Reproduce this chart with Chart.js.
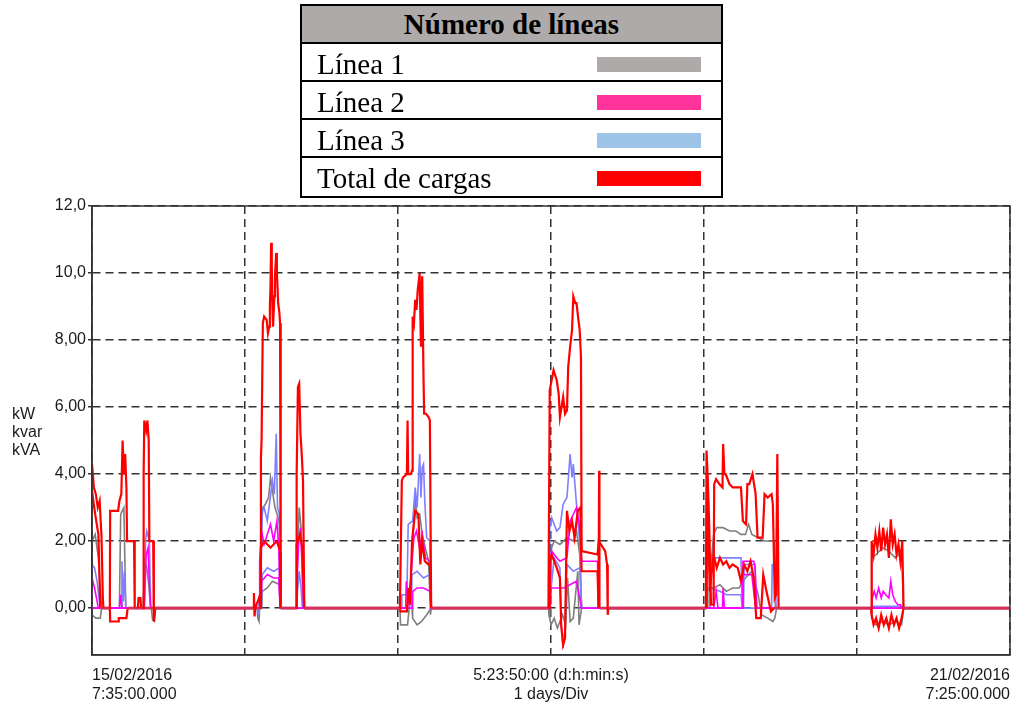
<!DOCTYPE html>
<html>
<head>
<meta charset="utf-8">
<script src="https://cdn.jsdelivr.net/npm/chart.js@4.4.1/dist/chart.umd.min.js"></script>
<style>
  html,body{margin:0;padding:0;background:#fff;width:1016px;height:706px;overflow:hidden;}
  #wrap{position:relative;width:1016px;height:706px;}
  #c{position:absolute;left:0;top:0;}
  #legend{position:absolute;left:300px;top:4px;width:423px;height:194px;border:2px solid #000;box-sizing:border-box;
    font-family:"Liberation Serif","Times New Roman",serif;color:#000;}
  .row{position:relative;height:38px;box-sizing:border-box;border-bottom:2px solid #000;font-size:29px;line-height:36px;}
  .row:last-child{border-bottom:none;height:38px;}
  .hdr{background:#AEAAAA;font-weight:bold;text-align:center;}
  .lbl{position:absolute;left:15px;top:2px;white-space:nowrap;}
  .sw{position:absolute;left:295px;top:13px;width:104px;height:15px;}
</style>
</head>
<body>
<div id="wrap">
  <canvas id="c" width="1016" height="706"></canvas>
  <div id="legend">
    <div class="row hdr">Número de líneas</div>
    <div class="row"><span class="lbl">Línea 1</span><span class="sw" style="background:#AEAAAA"></span></div>
    <div class="row"><span class="lbl">Línea 2</span><span class="sw" style="background:#FF3399"></span></div>
    <div class="row"><span class="lbl">Línea 3</span><span class="sw" style="background:#9DC3E6"></span></div>
    <div class="row"><span class="lbl">Total de cargas</span><span class="sw" style="background:#FF0000"></span></div>
  </div>
</div>
<script>
// x values are hours since 15/02/2016 7:35
const xTicks = [0, 24, 48, 72, 96, 120, 144];
const xTickLabels = [["15/02/2016","7:35:00.000"], "", "", ["5:23:50:00 (d:h:min:s)","1 days/Div"], "", "", ["21/02/2016","7:25:00.000"]];
const yTicks = [0, 2, 4, 6, 8, 10, 12];
const yTickLabels = ["0,00","2,00","4,00","6,00","8,00","10,0","12,0"];
const yUnits = ["kW","kvar","kVA"];

const line1A = [[0,2.0],[0.5,2.2],[1.0,1.5],[1.5,0],[4.3,0],[4.5,2.8],[5.0,3.0],[5.3,0],[8.0,0],[8.3,1.4],[8.6,1.2],[8.9,0.7],[9.2,0],
[25.9,0],[26.0,-0.3],[26.2,-0.4],[26.4,0.5],[26.6,2.5],[26.8,3.0],[27.2,3.1],[27.7,3.3],[28.0,3.9],[28.3,3.5],[28.7,3.0],[29.2,2.7],[29.4,2.5],[29.5,0],[32.1,0],[32.2,1.5],[32.5,3.0],[32.8,2.4],[33.1,0],
[48.3,0],[48.4,-0.5],[49.5,-0.5],[49.9,0.3],[50.3,2.0],[50.7,3.3],[51.0,2.7],[51.4,2.8],[51.8,2.2],[52.4,1.7],[52.8,1.4],[53.1,-0.2],[53.2,0],
[71.6,0],[71.8,-0.3],[72.1,1.8],[72.5,2.0],[73.4,1.9],[74.5,2.1],[75.5,2.0],[76.0,2.3],[76.5,1.6],[76.8,0],
[96.4,0],[96.5,2.0],[97.0,1.0],[97.5,2.2],[98.0,2.4],[99,2.4],[100,2.3],[101,2.3],[101.8,2.2],[102.5,2.2],[103.0,2.5],[103.5,2.2],[104.5,2.1],[105.5,2.0],[107.0,2.0],[107.2,0],
[122.2,0],[122.3,1.5],[123,1.6],[124,1.8],[125,1.7],[126,1.5],[127,1.7],[127.3,0],[144,0]];

const line1B = [[0,-0.2],[0.6,-0.3],[1.3,-0.3],[1.5,0],[9.3,0],[9.5,-0.35],[9.8,-0.4],[10.0,0],
[26.6,0],[26.7,0.5],[27.5,0.6],[28.3,0.8],[29.4,0.7],[29.5,0],
[50.2,0],[50.3,-0.3],[51.0,-0.5],[51.7,-0.4],[52.5,-0.2],[53.2,0],
[71.6,0],[71.7,-0.2],[72.0,-0.5],[72.5,-0.3],[73.0,-0.6],[73.8,-0.2],[74.3,-0.5],[74.6,0.9],[75.0,-0.4],[75.5,-0.3],[76.2,1.1],[76.4,-0.5],[76.8,0],
[96.5,0],[96.6,0.6],[97.5,0.6],[98.5,0.7],[99.5,0.5],[100.5,0.6],[101.5,0.6],[102.5,0.9],[103.5,1.1],[104.5,0.4],[105,-0.2],[106,-0.3],[106.8,-0.4],[107.1,-0.3],[107.4,0],
[122.2,0],[122.3,-0.3],[123,-0.5],[124,-0.4],[125,-0.5],[126,-0.4],[127,-0.5],[127.3,0],[144,0]];

const line2A = [[0,0.9],[0.4,0.6],[0.8,0.2],[1.0,0],[4.3,0],[4.5,0.4],[4.7,0],[8.2,0],[8.5,1.6],[8.8,1.8],[9.0,0.7],[9.2,0],
[26.2,0],[26.3,1.4],[26.6,2.3],[27,1.9],[27.5,2.2],[28,2.5],[28.5,2.0],[29,2.6],[29.3,1.8],[29.5,0],[32.0,0],[32.1,0.5],[32.4,1.9],[32.7,2.4],[33.0,1.1],[33.2,0],
[49.2,0],[49.3,0.8],[49.6,0.2],[50.0,0.9],[50.5,2.1],[50.9,2.3],[51.4,1.8],[51.8,2.2],[52.3,1.5],[53.0,1.4],[53.2,0],
[71.7,0],[71.8,1.2],[72.1,1.7],[72.9,1.5],[73.4,1.4],[74.5,1.5],[75.0,2.6],[75.5,2.8],[76.0,3.0],[76.5,2.4],[76.8,1.4],[79.3,1.4],[79.4,0],
[97.5,0],[97.6,0.1],[97.9,0.5],[98.2,0],[98.9,0],[99.0,0.6],[99.2,0],[102.0,0],[102.1,1.4],[103.8,1.4],[104.0,1.2],[104.3,0],
[122.3,0],[122.4,0.3],[122.7,0.5],[123.0,0.3],[123.4,0.6],[123.8,0.3],[124.1,0.5],[124.5,0.4],[125.0,0.3],[125.3,0.8],[125.6,0.4],[126.0,0.2],[126.4,0.1],[126.8,0.1],[127.0,0],[144,0]];

const line2B = [[0,0],[26.5,0],[26.6,0.8],[27.5,1.0],[28.5,0.9],[29.3,0.9],[29.5,0],
[50.2,0],[50.3,0.5],[51,0.6],[52,0.6],[53,0.5],[53.2,0],
[71.9,0],[72.0,0.6],[74,0.6],[76,0.8],[76.8,0],
[102.0,0],[102.1,1.0],[103.5,1.0],[104.1,0],[144,0]];

const line3A = [[0,1.3],[0.4,1.2],[0.8,0.8],[1.1,0.3],[1.3,0],[4.6,0],[4.7,1.4],[4.9,0.2],[5.1,1.1],[5.3,0],[8.2,0],[8.4,2.0],[8.6,2.3],[9.0,2.0],[9.2,0],
[26.0,0],[26.1,-0.2],[26.5,1.0],[26.7,2.9],[27.0,3.0],[27.5,2.6],[27.9,3.2],[28.3,3.8],[28.6,3.4],[28.9,5.2],[29.1,3.0],[29.4,2.8],[29.5,0],[32.1,0],[32.2,0.4],[32.5,1.1],[32.8,0.6],[33.0,0],
[48.5,0],[48.6,0.4],[49.4,0.4],[49.6,2.5],[50.3,2.6],[50.7,3.6],[51.0,3.0],[51.4,4.6],[51.6,3.3],[51.8,4.2],[52.0,4.3],[52.2,3.2],[52.5,2.1],[53.0,2.0],[53.2,0],
[71.7,0],[71.8,2.4],[72.1,2.7],[72.9,2.3],[73.4,2.4],[73.9,3.1],[74.5,3.3],[75.0,4.6],[75.3,3.9],[75.5,4.3],[76.0,3.1],[76.5,2.0],[76.8,0],
[96.9,0],[97.0,1.5],[101.8,1.5],[102.0,0],[102.2,0],[102.3,1.3],[104.0,1.3],[104.2,0],[106.6,0],[106.7,1.3],[107.2,1.3],[107.3,0],
[122.3,0],[122.4,0.05],[127.2,0.05],[127.3,0],[144,0]];

const line3B = [[0,0],[26.6,0],[26.7,1.0],[27.5,1.2],[28.5,1.1],[29.4,1.2],[29.5,0],
[50.1,0],[50.2,1.0],[51,1.1],[52,0.9],[53,1.0],[53.2,0],
[71.7,0],[71.8,0.2],[72.5,1.5],[73.4,1.2],[73.6,-0.5],[73.9,-1.2],[74.2,-0.6],[74.5,1.3],[75.5,1.1],[76.5,1.2],[76.8,0],
[96.9,0],[97.0,0.6],[98.5,0.5],[99.5,0.4],[101.8,0.4],[102.0,0],[144,0]];

const totalA = [[0,4.3],[0.3,3.6],[0.6,3.4],[0.9,3.0],[1.2,3.2],[1.5,2.1],[1.7,0.3],[1.8,0],[2.8,0],[2.85,2.9],[4.1,2.9],[4.3,3.2],[4.6,3.4],[4.8,5.0],[5.0,4.0],[5.2,4.6],[5.4,3.6],[5.5,2.0],[6.6,2.0],[6.7,0],[7.2,0],[7.3,0.3],[7.6,0.3],[7.7,0],[8.0,0],[8.1,4.0],[8.2,5.6],[8.5,5.3],[8.7,5.6],[8.9,5.0],[9.0,2.0],[9.6,2.0],[9.7,-0.4],[9.9,0],
[25.3,0],[25.4,0.45],[25.5,-0.25],[25.6,0],[26.2,0.3],[26.4,0.1],[26.5,4.5],[26.6,5.0],[26.8,8.5],[27.0,8.7],[27.4,8.6],[27.6,8.2],[27.8,8.4],[27.9,9.0],[28.0,9.6],[28.1,10.9],[28.2,10.2],[28.3,9.0],[28.4,8.4],[28.6,9.3],[28.7,9.9],[28.9,10.6],[29.0,10.0],[29.1,9.6],[29.2,9.1],[29.4,8.8],[29.5,8.5],[29.6,0],[32.0,0],[32.1,4.0],[32.3,6.6],[32.5,6.7],[32.7,5.2],[32.9,4.6],[33.1,3.8],[33.3,0],
[48.3,0],[48.6,3.8],[48.8,3.9],[49.4,4.0],[49.5,5.6],[49.6,4.0],[50.0,4.0],[50.2,4.1],[50.3,8.7],[50.5,8.5],[50.7,9.2],[50.9,8.9],[51.1,9.5],[51.4,10.0],[51.5,8.8],[51.6,7.8],[51.7,9.3],[51.8,9.9],[52.0,6.9],[52.1,5.8],[52.4,5.8],[52.8,5.7],[53.0,5.6],[53.2,0],
[71.6,0],[71.8,6.5],[72.1,6.8],[72.4,7.1],[72.9,6.8],[73.2,6.4],[73.4,5.7],[73.9,6.3],[74.2,5.8],[74.5,5.9],[74.7,7.2],[75.0,7.8],[75.3,8.3],[75.5,9.3],[75.8,9.1],[76.0,9.1],[76.3,8.6],[76.5,8.3],[76.7,7.5],[76.8,1.7],[79.3,1.6],[79.5,2.0],[80.5,1.7],[80.8,1.3],[80.9,-0.2],[81.0,0],
[96.3,0],[96.4,4.7],[96.6,3.8],[96.8,2.6],[97.1,0.1],[97.5,0.1],[97.6,3.7],[97.9,3.85],[98.4,3.7],[98.9,3.6],[99.0,4.9],[99.2,4.0],[99.4,4.0],[99.8,3.8],[100.0,3.7],[100.5,3.6],[101.3,3.6],[101.8,3.6],[102.1,2.6],[102.6,2.5],[102.8,3.7],[103.1,3.7],[103.6,4.0],[104.1,3.4],[104.4,2.1],[105.2,2.1],[105.5,3.4],[106.0,3.3],[106.6,3.4],[106.8,3.1],[107.1,0.3],[107.3,0.4],[107.5,4.6],[107.7,0],
[122.2,0],[122.3,2.0],[122.6,1.6],[122.9,2.2],[123.2,1.8],[123.5,2.3],[123.8,1.7],[124.1,2.4],[124.4,1.9],[124.7,2.2],[125.0,1.5],[125.3,2.65],[125.6,1.9],[125.9,2.2],[126.2,1.6],[126.5,1.9],[126.8,1.4],[127.1,2.0],[127.3,0],[144,0]];

const totalB = [[0,3.5],[0.5,2.8],[1.0,2.2],[1.3,0],[2.8,0],[2.85,-0.4],[4.1,-0.4],[4.2,-0.3],[5.4,-0.3],[5.6,0],
[26.4,0],[26.5,1.8],[27,2.0],[28,1.8],[29,2.0],[29.5,1.7],[29.6,0],[32.0,0],[32.1,1.9],[32.6,2.2],[33.0,1.8],[33.3,0],
[48.3,0],[48.4,-0.1],[49.4,-0.1],[49.6,0.6],[49.9,0.1],[50.2,2.0],[50.7,2.9],[51.2,2.8],[51.5,1.3],[51.8,2.0],[52.2,1.4],[52.8,1.3],[53.0,1.3],[53.2,0],
[71.7,0],[71.8,1.4],[72.1,1.6],[72.9,1.2],[73.4,0.9],[73.6,-0.5],[73.9,-1.1],[74.2,-0.9],[74.5,2.9],[74.9,2.3],[75.3,2.6],[75.7,2.1],[76.2,2.9],[76.6,3.0],[76.8,1.1],[79.3,1.1],[79.45,0],[79.55,4.1],[79.6,0],
[96.4,0],[96.5,4.0],[96.9,0.5],[97.5,1.6],[98.0,1.2],[98.5,1.5],[99.0,1.3],[99.5,1.4],[100,1.2],[100.5,1.3],[101.3,1.2],[101.8,0.8],[102.3,1.3],[102.8,1.1],[103.3,1.4],[103.8,0.9],[104.2,-0.3],[104.9,-0.3],[105.3,1.0],[105.8,0.5],[106.5,-0.1],[107.0,0.0],
[122.2,0],[122.3,-0.2],[122.6,-0.5],[123,-0.3],[123.4,-0.6],[123.8,-0.2],[124.2,-0.5],[124.6,-0.3],[125,-0.6],[125.4,-0.2],[125.8,-0.5],[126.2,-0.3],[126.6,-0.6],[127.0,-0.3],[127.3,0],[144,0]];

const toXY = arr => arr.map(p => ({x: p[0], y: p[1]}));
// segments lying on the zero level are drawn in the blended crimson seen in the reference
const zeroSeg = (c) => c.p0.parsed.y === 0 && c.p1.parsed.y === 0;
function ds(label, arr, color, width, order, baseColor) {
  const d = {label, data: toXY(arr), borderColor: color, backgroundColor: color, borderWidth: width,
    pointRadius: 0, tension: 0, fill: false, order};
  if (baseColor) {
    d.segment = {
      borderColor: c => zeroSeg(c) ? baseColor : undefined,
      borderWidth: c => zeroSeg(c) ? 2.6 : undefined
    };
  }
  return d;
}

const frame = {
  id: 'frame',
  afterDatasetsDraw(chart) {
    const {ctx, chartArea: a} = chart;
    ctx.save();
    ctx.strokeStyle = '#333';
    ctx.lineWidth = 1.5;
    ctx.strokeRect(a.left, a.top, a.right - a.left, a.bottom - a.top);
    ctx.fillStyle = '#1a1a1a';
    ctx.font = '16px "Liberation Sans", Arial, sans-serif';
    ctx.textAlign = 'left';
    ctx.textBaseline = 'alphabetic';
    const base = [419, 437, 455];
    yUnits.forEach((t, i) => ctx.fillText(t, 12, base[i]));
    ctx.restore();
  }
};

const fontSpec = {family: '"Liberation Sans", Arial, sans-serif', size: 16, lineHeight: 1.2};

new Chart(document.getElementById('c'), {
  type: 'line',
  data: {
    datasets: [
      ds('Total de cargas', totalA, '#ff0000', 2.2, 0, '#d62f5c'),
      ds('Total de cargas ', totalB, '#ff0000', 2.2, 1, '#d62f5c'),
      ds('Línea 2', line2A, '#ff00ff', 1.6, 2),
      ds('Línea 2 ', line2B, '#ff00ff', 1.6, 3),
      ds('Línea 3', line3A, '#7f7fff', 1.6, 4),
      ds('Línea 3 ', line3B, '#7f7fff', 1.6, 5),
      ds('Línea 1', line1A, '#7f7f7f', 1.6, 6),
      ds('Línea 1 ', line1B, '#7f7f7f', 1.6, 7)
    ]
  },
  options: {
    responsive: false,
    animation: false,
    events: [],
    layout: {padding: {top: 206, right: 6, left: 0, bottom: 0}},
    plugins: {legend: {display: false}, tooltip: {enabled: false}, title: {display: false}},
    scales: {
      x: {
        type: 'linear', min: 0, max: 144,
        afterBuildTicks: s => { s.ticks = xTicks.map(v => ({value: v})); },
        afterFit: s => { s.height = 51; s.paddingLeft = 0; s.paddingRight = 0; },
        ticks: {
          autoSkip: false, maxRotation: 0, align: 'inner', padding: 11,
          color: '#1a1a1a', font: fontSpec,
          callback: (v, i) => xTickLabels[i]
        },
        grid: {color: '#333', lineWidth: 1.5, drawTicks: false},
        border: {display: true, color: '#333', width: 1.5, dash: [8, 5]}
      },
      y: {
        type: 'linear', min: -1.4, max: 12,
        afterBuildTicks: s => { s.ticks = yTicks.map(v => ({value: v})); },
        afterFit: s => { s.width = 92; },
        ticks: {color: '#1a1a1a', font: fontSpec, padding: 2,
          callback: (v, i) => yTickLabels[i]},
        grid: {color: '#333', lineWidth: 1.5, drawTicks: true, tickLength: 4, tickBorderDash: []},
        border: {display: true, color: '#333', width: 1.5, dash: [8, 5]}
      }
    }
  },
  plugins: [frame]
});
</script>
</body>
</html>
